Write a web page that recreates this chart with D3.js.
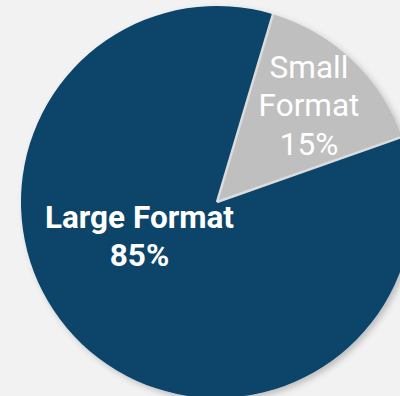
<!DOCTYPE html>
<html>
<head>
<meta charset="utf-8">
<script src="https://cdn.jsdelivr.net/npm/d3@7"></script>
<style>
  html, body { margin: 0; padding: 0; background: #f2f2f2; }
  svg { display: block; }
</style>
</head>
<body>
<div id="chart"></div>
<script>
// Share of formats
const categories = ["Large Format", "Small Format"];
const values = [85, 15];
const valueLabels = ["85%", "15%"];
const colors = ["#07446a", "#bfbfbf"];

const width = 400, height = 396;
const cx = 217, cy = 202, radius = 196;

const svg = d3.select("#chart").append("svg")
  .attr("width", width)
  .attr("height", height);

const defs = svg.append("defs");
const shadow = defs.append("filter")
  .attr("id", "pie-shadow")
  .attr("x", "-20%").attr("y", "-20%")
  .attr("width", "140%").attr("height", "140%");
shadow.append("feDropShadow")
  .attr("dx", 3).attr("dy", 3)
  .attr("stdDeviation", 3)
  .attr("flood-color", "#000")
  .attr("flood-opacity", 0.22);

const start = 70.6 * Math.PI / 180;
const pie = d3.pie()
  .sort(null)
  .startAngle(start)
  .endAngle(start + 2 * Math.PI);

const arcs = pie(values);
const arc = d3.arc().innerRadius(0).outerRadius(radius);

const g = svg.append("g").attr("transform", `translate(${cx},${cy})`);

const slices = g.append("g").attr("filter", "url(#pie-shadow)");
slices.selectAll("path")
  .data(arcs)
  .join("path")
  .attr("d", arc)
  .attr("fill", (d, i) => colors[i]);

// Light separators along the slice boundaries (no outline on the rim)
slices.selectAll("line")
  .data(arcs)
  .join("line")
  .attr("x1", 0).attr("y1", 0)
  .attr("x2", d => d3.pointRadial(d.startAngle, radius)[0])
  .attr("y2", d => d3.pointRadial(d.startAngle, radius)[1])
  .attr("stroke", "#dcdcdc")
  .attr("stroke-width", 2.5);

// Label positions, relative to the pie centre
const labelPos = [
  { x: 139.5 - cx, y: 228 - cy, lines: [categories[0], valueLabels[0]], weight: 700 },
  { x: 309 - cx, y: 78 - cy, lines: categories[1].split(" ").concat([valueLabels[1]]), weight: 400 }
];

labelPos.forEach(p => {
  const t = g.append("text")
    .attr("x", p.x)
    .attr("y", p.y)
    .attr("text-anchor", "middle")
    .attr("fill", "#ffffff")
    .style("font-family", "Roboto, 'Noto Sans', sans-serif")
    .style("font-size", "31.5px")
    .style("font-weight", p.weight);
  p.lines.forEach((line, i) => {
    t.append("tspan")
      .attr("x", p.x)
      .attr("dy", i === 0 ? 0 : 38.4)
      .text(line);
  });
});
</script>
</body>
</html>
